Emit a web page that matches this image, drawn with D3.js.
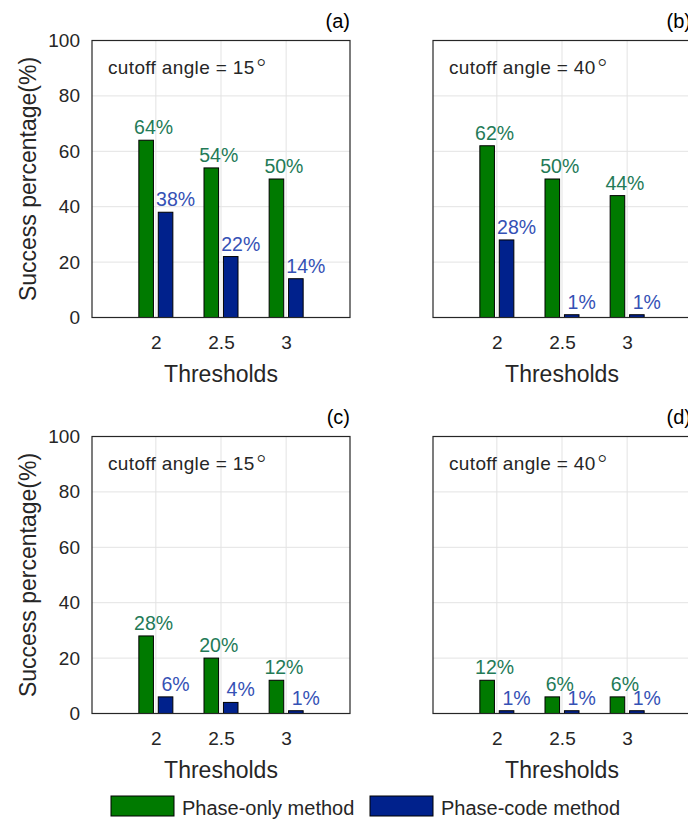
<!DOCTYPE html>
<html>
<head>
<meta charset="utf-8">
<script src="https://cdn.jsdelivr.net/npm/d3@7/dist/d3.min.js"></script>
<style>
  html, body { margin: 0; padding: 0; background: #fff; }
  svg { display: block; font-family: "Liberation Sans", Arial, Helvetica, sans-serif; }
</style>
</head>
<body>
<svg id="chart" width="688" height="820"></svg>
<script>
// Threshold categories shared by all four panels
const thresholds = ["2", "2.5", "3"];
const seriesNames = ["Phase-only method", "Phase-code method"];
const yTicks = [0, 20, 40, 60, 80, 100];

// Success percentages per panel
const panelIds = ["(a)", "(b)", "(c)", "(d)"];
const cutoffAngles = [15, 40, 15, 40];
const phaseOnlyA = [64, 54, 50];
const phaseCodeA = [38, 22, 14];
const phaseOnlyB = [62, 50, 44];
const phaseCodeB = [28, 1, 1];
const phaseOnlyC = [28, 20, 12];
const phaseCodeC = [6, 4, 1];
const phaseOnlyD = [12, 6, 6];
const phaseCodeD = [1, 1, 1];

const panels = [
  { id: panelIds[0], angle: cutoffAngles[0], values: [phaseOnlyA, phaseCodeA] },
  { id: panelIds[1], angle: cutoffAngles[1], values: [phaseOnlyB, phaseCodeB] },
  { id: panelIds[2], angle: cutoffAngles[2], values: [phaseOnlyC, phaseCodeC] },
  { id: panelIds[3], angle: cutoffAngles[3], values: [phaseOnlyD, phaseCodeD] }
];

const barFill = ["#007a00", "#00218c"];
const labelFill = ["#237a57", "#3551b5"];
const axisInk = "#262626";
const gridInk = "#e3e3e3";

const svg = d3.select("#chart");

// Plot-area frames (left, top) for the 2x2 grid
const frames = [
  { x: 92, y: 40.5 }, { x: 433, y: 40.5 },
  { x: 92, y: 436.5 }, { x: 433, y: 436.5 }
];
const plotW = 258, plotH = 277;

panels.forEach((p, i) => {
  const f = frames[i];
  const g = svg.append("g").attr("transform", `translate(${f.x},${f.y})`);

  const x = d3.scalePoint().domain(thresholds).range([0, plotW]).padding(0.98);
  const y = d3.scaleLinear().domain([0, 100]).range([plotH, 0]);
  const xs = d3.scaleBand().domain(seriesNames).range([-17, 17]).paddingInner(0.25).paddingOuter(0);

  // grid lines
  g.append("g").selectAll("line.h").data(yTicks).join("line")
    .attr("x1", 0).attr("x2", plotW)
    .attr("y1", d => y(d)).attr("y2", d => y(d))
    .attr("stroke", gridInk).attr("stroke-width", 1);
  g.append("g").selectAll("line.v").data(thresholds).join("line")
    .attr("x1", d => x(d)).attr("x2", d => x(d))
    .attr("y1", 0).attr("y2", plotH)
    .attr("stroke", gridInk).attr("stroke-width", 1);

  // bars
  seriesNames.forEach((s, si) => {
    const vals = p.values[si];
    g.append("g").selectAll("rect").data(thresholds).join("rect")
      .attr("x", (d) => x(d) + xs(s))
      .attr("width", xs.bandwidth())
      .attr("y", (d, k) => y(vals[k]))
      .attr("height", (d, k) => plotH - y(vals[k]))
      .attr("fill", barFill[si])
      .attr("stroke", "#000").attr("stroke-width", 1);
  });

  // value labels
  const labelShift = [7.5, 10];
  seriesNames.forEach((s, si) => {
    const vals = p.values[si];
    g.append("g").selectAll("text").data(thresholds).join("text")
      .attr("x", d => x(d) + xs(s) + xs.bandwidth() / 2 + labelShift[si])
      .attr("y", (d, k) => y(vals[k]) - 6)
      .attr("text-anchor", "middle")
      .attr("font-size", 19.5)
      .attr("fill", labelFill[si])
      .text((d, k) => vals[k] + "%");
  });

  // frame
  g.append("rect").attr("x", 0).attr("y", 0).attr("width", plotW).attr("height", plotH)
    .attr("fill", "none").attr("stroke", axisInk).attr("stroke-width", 1.2);

  // x axis tick labels
  const xAxis = d3.axisBottom(x).tickSize(0).tickPadding(0);
  const xa = g.append("g").attr("transform", `translate(0,${plotH})`).call(xAxis);
  xa.select(".domain").remove();
  xa.selectAll("text").attr("y", 31).attr("dy", 0)
    .attr("font-size", 19).attr("fill", axisInk)
    .attr("font-family", "Liberation Sans, Arial, sans-serif");

  // y axis tick labels (left column only)
  if (i % 2 === 0) {
    const yAxis = d3.axisLeft(y).tickValues(yTicks).tickSize(0).tickPadding(12);
    const ya = g.append("g").call(yAxis);
    ya.select(".domain").remove();
    ya.selectAll("text").attr("font-size", 19).attr("fill", axisInk)
      .attr("font-family", "Liberation Sans, Arial, sans-serif");

    g.append("text")
      .attr("transform", `translate(${-56},${plotH / 2}) rotate(-90)`)
      .attr("text-anchor", "middle")
      .attr("font-size", 23).attr("fill", axisInk)
      .text("Success percentage(%)");
  }

  // x axis title
  g.append("text")
    .attr("x", plotW / 2).attr("y", plotH + 64)
    .attr("text-anchor", "middle")
    .attr("font-size", 23).attr("fill", axisInk)
    .text("Thresholds");

  // cutoff annotation, with a raised ring for degrees
  const note = g.append("text")
    .attr("x", 16).attr("y", 33.5)
    .attr("font-size", 19).attr("fill", axisInk)
    .attr("letter-spacing", 0.35);
  note.append("tspan").text(`cutoff angle = ${p.angle}`);
  note.append("tspan")
    .attr("dy", 4)
    .attr("font-size", 26).attr("font-family", "DejaVu Sans")
    .attr("font-weight", 200)
    .text("°");

  // panel tag
  g.append("text")
    .attr("x", plotW).attr("y", -13)
    .attr("text-anchor", "end")
    .attr("font-size", 20).attr("fill", "#000")
    .text(p.id);
});

// legend
const legend = svg.append("g");
const legendItems = [
  { x: 111, name: seriesNames[0], fill: barFill[0] },
  { x: 370, name: seriesNames[1], fill: barFill[1] }
];
legendItems.forEach(item => {
  legend.append("rect")
    .attr("x", item.x).attr("y", 796).attr("width", 63).attr("height", 20)
    .attr("fill", item.fill).attr("stroke", "#000").attr("stroke-width", 1);
  legend.append("text")
    .attr("x", item.x + 71).attr("y", 814.5)
    .attr("font-size", 20).attr("fill", axisInk)
    .text(item.name);
});
</script>
</body>
</html>
